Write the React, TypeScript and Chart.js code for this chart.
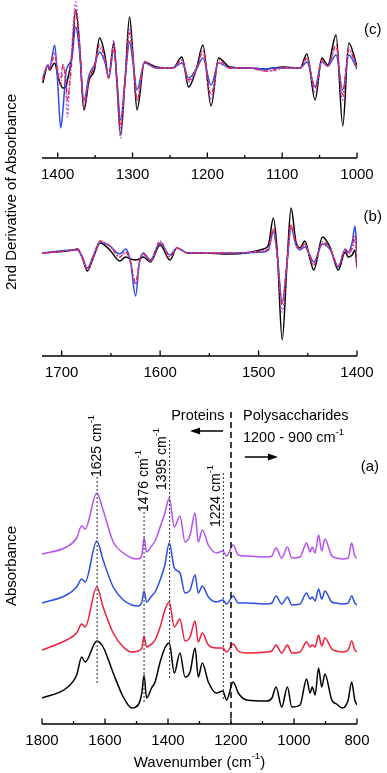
import React, { useEffect, useRef } from 'react';
import { Chart, registerables } from 'chart.js';

Chart.register(...registerables);

const FONT = '"Liberation Sans", Arial, Helvetica, sans-serif';

// ---------- Panel (a): absorbance spectra (offset stack) ----------
const WN_A = [1800, 1722, 1690, 1674, 1663, 1626, 1606, 1574, 1542, 1515, 1495, 1483, 1476, 1468, 1452, 1441, 1425, 1410, 1396, 1380, 1362, 1346, 1330, 1314, 1304, 1291, 1272, 1246, 1226, 1214, 1193, 1177, 1150, 1087, 1070, 1057, 1039, 1021, 1007, 981, 960, 949, 942, 933, 922, 912, 902, 880, 865, 846, 828, 817, 807, 800];
const ABS_BLACK = [0.20, 0.30, 0.43, 0.61, 0.56, 0.77, 0.71, 0.45, 0.21, 0.10, 0.13, 0.25, 0.43, 0.20, 0.30, 0.36, 0.56, 0.70, 0.75, 0.45, 0.65, 0.41, 0.46, 0.70, 0.41, 0.55, 0.36, 0.25, 0.27, 0.18, 0.36, 0.25, 0.18, 0.17, 0.20, 0.31, 0.11, 0.31, 0.11, 0.13, 0.39, 0.25, 0.31, 0.23, 0.50, 0.31, 0.44, 0.18, 0.14, 0.10, 0.18, 0.36, 0.18, 0.13];
const ABS_RED = [0.68, 0.78, 0.85, 0.94, 0.91, 1.31, 1.11, 0.85, 0.71, 0.66, 0.67, 0.70, 0.82, 0.71, 0.74, 0.78, 0.91, 1.08, 1.16, 0.91, 0.99, 0.77, 0.81, 0.97, 0.76, 0.85, 0.73, 0.70, 0.70, 0.66, 0.74, 0.67, 0.65, 0.66, 0.67, 0.73, 0.65, 0.73, 0.65, 0.66, 0.76, 0.71, 0.73, 0.71, 0.83, 0.72, 0.80, 0.69, 0.67, 0.66, 0.68, 0.77, 0.68, 0.66];
const ABS_BLUE = [1.15, 1.23, 1.31, 1.39, 1.36, 1.77, 1.58, 1.31, 1.18, 1.13, 1.12, 1.16, 1.27, 1.16, 1.22, 1.26, 1.38, 1.53, 1.75, 1.50, 1.45, 1.25, 1.28, 1.43, 1.25, 1.32, 1.21, 1.16, 1.18, 1.14, 1.22, 1.15, 1.15, 1.14, 1.15, 1.22, 1.14, 1.21, 1.13, 1.14, 1.25, 1.19, 1.21, 1.17, 1.29, 1.19, 1.27, 1.16, 1.15, 1.14, 1.15, 1.22, 1.15, 1.13];
const ABS_PURPLE = [1.64, 1.71, 1.80, 1.92, 1.89, 2.25, 2.08, 1.76, 1.65, 1.60, 1.59, 1.63, 1.80, 1.66, 1.72, 1.77, 1.91, 2.05, 2.20, 1.91, 2.02, 1.76, 1.83, 2.05, 1.76, 1.88, 1.73, 1.65, 1.67, 1.62, 1.73, 1.63, 1.62, 1.61, 1.62, 1.70, 1.60, 1.71, 1.60, 1.61, 1.75, 1.66, 1.71, 1.65, 1.83, 1.67, 1.79, 1.62, 1.60, 1.59, 1.60, 1.75, 1.62, 1.60];
const TICKS_A = [1800, 1600, 1400, 1200, 1000, 800];
const MINOR_A = [1700, 1500, 1300, 1100, 900];
const BANDS_A = [1625, 1476, 1395, 1224];
const BAND_LABELS_A = ['1625', '1476', '1395', '1224'];
const REGION_SPLIT = 1200;

// ---------- Panel (b): 2nd derivative, 1720-1400 ----------
const WN_B = [1720, 1688, 1684, 1679, 1674, 1668, 1661, 1651, 1641, 1635, 1630, 1625, 1621, 1617, 1610, 1600, 1590, 1583, 1572, 1559, 1529, 1495, 1490, 1485, 1481, 1476, 1471, 1467, 1462, 1458, 1453, 1448, 1444, 1435, 1427, 1419, 1412, 1409, 1405, 1402, 1400];
const D2B_BLACK = [0.0, 0.3, 0.4, -0.5, -1.8, -0.5, 1.0, 0.3, -0.8, -0.4, -0.6, -0.7, -0.6, -0.4, -0.9, 0.8, -0.7, 0.5, 0.0, 0.0, -0.1, 0.4, 0.8, 3.5, 0.1, -8.7, -0.9, 4.5, 1.1, 0.5, 1.2, -0.5, -1.7, 1.6, 0.5, -1.7, 0.1, -0.4, -0.2, 0.3, -1.5];
const D2B_BLUE = [0.0, 0.3, 0.3, -0.4, -1.5, -0.3, 1.1, 0.7, -0.1, 0.4, -0.9, -4.3, -0.9, 0.0, -0.7, 1.0, -0.2, 0.5, 0.0, 0.0, 0.0, 0.1, 0.3, 2.1, -0.2, -4.9, -0.9, 2.5, 0.8, 0.3, 0.6, -0.2, -0.9, 0.9, 0.3, -1.4, 0.4, 0.1, 1.0, 2.7, 0.1];
const D2B_RED = [0.0, 0.3, 0.4, -0.5, -1.7, -0.4, 1.2, 0.7, -0.4, 0.1, -0.9, -3.0, -0.9, -0.1, -0.8, 1.2, -0.4, 0.5, 0.0, 0.0, 0.0, 0.2, 0.4, 2.5, -0.2, -5.2, -0.9, 2.9, 0.9, 0.4, 0.9, -0.3, -1.2, 1.1, 0.4, -1.3, 0.3, -0.1, 0.5, 1.8, -1.4];
const D2B_PURPLE = [0.0, 0.3, 0.4, -0.5, -1.7, -0.4, 1.1, 0.7, -0.4, 0.1, -0.9, -3.2, -0.9, -0.1, -0.8, 1.1, -0.4, 0.5, 0.0, 0.0, 0.0, 0.2, 0.4, 2.3, -0.2, -5.9, -0.9, 2.7, 0.9, 0.4, 0.8, -0.3, -1.2, 1.0, 0.4, -1.3, 0.3, -0.1, 0.4, 1.3, -1.7];
const TICKS_B = [1700, 1600, 1500, 1400];
const MINOR_B = [1650, 1550, 1450];

// ---------- Panel (c): 2nd derivative, 1420-1000 ----------
const WN_C = [1420, 1413, 1411, 1404, 1400, 1396, 1393, 1389, 1387, 1384, 1381, 1376, 1371, 1365, 1358, 1351, 1344, 1337, 1332, 1325, 1321, 1316, 1310, 1304, 1299, 1294, 1284, 1268, 1246, 1234, 1225, 1214, 1206, 1195, 1185, 1170, 1143, 1123, 1112, 1099, 1076, 1067, 1056, 1047, 1039, 1028, 1019, 1011, 1000];
const D2C_BLACK = [-1.5, 0.3, -0.2, 0.5, -0.7, -1.7, -2.0, -1.9, -1.2, -0.2, 1.3, 5.8, 2.5, -4.2, -1.2, -0.2, 3.0, 1.3, -1.0, 2.5, -1.2, -6.7, -1.2, 5.1, 0.8, -4.2, 0.6, 0.1, 0.0, 1.1, -1.9, 0.1, 2.3, -3.8, 1.0, 0.1, 0.0, -0.1, 0.0, 0.1, 0.0, 1.4, -3.2, 1.0, 0.3, 3.3, -5.8, 2.5, 0.2];
const D2C_BLUE = [-1.0, 0.3, 0.0, 2.3, -1.5, -6.0, -4.2, -0.4, 0.1, 0.5, 1.0, 4.1, 1.8, -3.2, -0.7, 0.3, 1.6, 0.6, -0.9, 1.8, -1.0, -5.2, -1.2, 2.6, 0.3, -2.2, 0.5, 0.0, 0.0, 0.5, -1.0, 0.0, 1.0, -1.7, 0.5, 0.0, 0.0, -0.1, 0.0, 0.0, 0.0, 0.6, -1.9, 0.6, 0.2, 1.3, -2.2, 1.3, -0.1];
const D2C_RED = [-1.2, 0.2, -0.1, 1.3, -0.4, -1.7, 0.3, -1.2, -3.2, -1.7, 0.8, 5.8, 2.3, -3.9, -1.0, 0.1, 2.3, 1.0, -1.0, 2.1, -1.2, -5.9, -1.2, 3.5, 0.6, -3.2, 0.6, 0.0, 0.0, 0.8, -1.2, 0.0, 1.6, -2.7, 0.8, 0.0, 0.0, -0.3, -0.2, 0.0, 0.0, 1.0, -2.0, 0.8, 0.2, 2.3, -2.7, 1.8, 0.0];
const D2C_PURPLE = [-1.0, 0.3, 0.0, 1.6, -0.2, -0.9, 0.3, -2.2, -4.9, -1.2, 2.3, 6.6, 2.8, -3.5, -0.9, 0.2, 2.0, 0.8, -1.0, 2.8, -1.7, -7.0, -1.4, 4.0, 0.6, -3.2, 0.6, 0.0, 0.0, 0.8, -1.4, 0.0, 1.8, -3.2, 0.6, 0.0, 0.0, -0.3, -0.3, 0.0, 0.0, 1.0, -2.4, 0.6, 0.2, 2.0, -3.2, 2.0, 0.0];
const TICKS_C = [1400, 1300, 1200, 1100, 1000];
const MINOR_C = [1350, 1250, 1150, 1050];

// ---------- styling ----------
const C_BLACK = '#000000';
const C_RED = '#f21d3a';
const C_BLUE = '#2b4ce8';
const C_PURPLE = '#b64ff2';

type Part = { t: string; sup?: boolean };

function drawRich(ctx: CanvasRenderingContext2D, parts: Part[], x: number, y: number, size: number, align: 'left' | 'center' | 'right') {
  let w = 0;
  for (const p of parts) {
    ctx.font = `${p.sup ? size * 0.66 : size}px ${FONT}`;
    w += ctx.measureText(p.t).width;
  }
  let cx = align === 'left' ? x : align === 'center' ? x - w / 2 : x - w;
  ctx.textAlign = 'left';
  ctx.textBaseline = 'middle';
  for (const p of parts) {
    const fs = p.sup ? size * 0.66 : size;
    ctx.font = `${fs}px ${FONT}`;
    ctx.fillText(p.t, cx, p.sup ? y - size * 0.42 : y);
    cx += ctx.measureText(p.t).width;
  }
}

function axisPlugin(major: number[], minor: number[], title: boolean, tag?: { text: string; wn: number; v: number }) {
  return {
    id: 'customAxis',
    afterDraw(chart: any) {
      const { ctx, chartArea, scales } = chart;
      const xs = scales.x;
      const ys = scales.y;
      const yB = chartArea.bottom;
      ctx.save();
      ctx.strokeStyle = '#000';
      ctx.fillStyle = '#000';
      ctx.lineWidth = 1.6;
      ctx.beginPath();
      ctx.moveTo(chartArea.left, yB);
      ctx.lineTo(chartArea.right, yB);
      ctx.stroke();
      ctx.lineWidth = 1.3;
      for (const t of major) {
        const x = xs.getPixelForValue(t);
        ctx.beginPath();
        ctx.moveTo(x, yB);
        ctx.lineTo(x, yB - 5.5);
        ctx.stroke();
      }
      for (const t of minor) {
        const x = xs.getPixelForValue(t);
        ctx.beginPath();
        ctx.moveTo(x, yB);
        ctx.lineTo(x, yB - 3);
        ctx.stroke();
      }
      ctx.font = `15px ${FONT}`;
      ctx.textAlign = 'center';
      ctx.textBaseline = 'middle';
      for (const t of major) {
        ctx.fillText(String(t), xs.getPixelForValue(t), yB + 16.5);
      }
      if (title) {
        drawRich(ctx, [{ t: 'Wavenumber (cm' }, { t: '-1', sup: true }, { t: ')' }], (chartArea.left + chartArea.right) / 2, yB + 38.5, 15, 'center');
      }
      if (tag) {
        ctx.font = `15px ${FONT}`;
        ctx.textAlign = 'center';
        ctx.textBaseline = 'middle';
        ctx.fillText(tag.text, xs.getPixelForValue(tag.wn), ys.getPixelForValue(tag.v));
      }
      ctx.restore();
    },
  };
}

const annotationPluginA = {
  id: 'annotA',
  afterDatasetsDraw(chart: any) {
    const { ctx, scales, chartArea } = chart;
    const xs = scales.x;
    const ys = scales.y;
    const X = (v: number) => xs.getPixelForValue(v);
    const Y = (v: number) => ys.getPixelForValue(v);
    ctx.save();
    // band marker layout: line extent and label placement (in data units)
    const layout = [
      { top: 2.41, bottom: 0.35, textWn: BANDS_A[0], textBottom: 2.41 },
      { top: 2.06, bottom: 0.15, textWn: BANDS_A[1], textBottom: 2.06 },
      { top: 2.78, bottom: 0.38, textWn: 1418, textBottom: 2.28 },
      { top: 2.45, bottom: 0.18, textWn: 1248, textBottom: 1.91 },
    ];
    ctx.strokeStyle = '#4a4a5a';
    ctx.lineWidth = 1.2;
    ctx.setLineDash([2, 2]);
    BANDS_A.forEach((wn, i) => {
      const L = layout[i];
      ctx.beginPath();
      ctx.moveTo(X(wn), Y(L.top));
      ctx.lineTo(X(wn), Y(L.bottom));
      ctx.stroke();
    });
    // region split line
    ctx.strokeStyle = '#111';
    ctx.lineWidth = 1.6;
    ctx.setLineDash([6, 4]);
    ctx.beginPath();
    ctx.moveTo(X(REGION_SPLIT), Y(3.06));
    ctx.lineTo(X(REGION_SPLIT), chartArea.bottom);
    ctx.stroke();
    ctx.setLineDash([]);
    // rotated band labels
    ctx.fillStyle = '#000';
    BANDS_A.forEach((wn, i) => {
      const L = layout[i];
      ctx.save();
      ctx.translate(X(L.textWn), Y(L.textBottom));
      ctx.rotate(-Math.PI / 2);
      drawRich(ctx, [{ t: BAND_LABELS_A[i] + ' cm' }, { t: '-1', sup: true }], 0, 0, 14, 'left');
      ctx.restore();
    });
    // region texts
    drawRich(ctx, [{ t: 'Proteins' }], X(1221), Y(3.02), 14.5, 'right');
    drawRich(ctx, [{ t: 'Polysaccharides' }], X(1162), Y(3.02), 14.5, 'left');
    drawRich(ctx, [{ t: '1200 - 900 cm' }, { t: '-1', sup: true }], X(1162), Y(2.8), 14.5, 'left');
    // arrows
    ctx.strokeStyle = '#000';
    ctx.fillStyle = '#000';
    ctx.lineWidth = 1.5;
    const arrow = (from: number, to: number, v: number) => {
      const x1 = X(from);
      const x2 = X(to);
      const y = Y(v);
      const dir = Math.sign(x2 - x1);
      ctx.beginPath();
      ctx.moveTo(x1, y);
      ctx.lineTo(x2 - dir * 6, y);
      ctx.stroke();
      ctx.beginPath();
      ctx.moveTo(x2, y);
      ctx.lineTo(x2 - dir * 10, y - 3.5);
      ctx.lineTo(x2 - dir * 10, y + 3.5);
      ctx.closePath();
      ctx.fill();
    };
    arrow(1225, 1330, 2.87);
    arrow(1156, 1051, 2.61);
    // panel tag
    ctx.font = `15px ${FONT}`;
    ctx.textAlign = 'center';
    ctx.textBaseline = 'middle';
    ctx.fillText('(a)', X(759), Y(2.51));
    ctx.restore();
  },
};

function pts(xs: number[], ys: number[]) {
  return xs.map((x, i) => ({ x, y: ys[i] }));
}

function derivDatasets(wn: number[], black: number[], blue: number[], red: number[], purple: number[]) {
  return [
    { data: pts(wn, red), borderColor: C_RED, borderWidth: 1.4, borderDash: [4, 2, 1, 2] },
    { data: pts(wn, purple), borderColor: C_PURPLE, borderWidth: 1.4, borderDash: [2, 2] },
    { data: pts(wn, blue), borderColor: C_BLUE, borderWidth: 1.5 },
    { data: pts(wn, black), borderColor: C_BLACK, borderWidth: 1.5 },
  ];
}

function makeChart(canvas: HTMLCanvasElement, datasets: any[], xr: [number, number], yr: [number, number], padding: any, plugins: any[]) {
  return new Chart(canvas, {
    type: 'line',
    data: { datasets: datasets.map((d) => ({ ...d, pointRadius: 0, fill: false, cubicInterpolationMode: 'monotone' })) },
    options: {
      responsive: false,
      maintainAspectRatio: false,
      animation: false,
      events: [],
      layout: { padding },
      plugins: { legend: { display: false }, tooltip: { enabled: false } },
      scales: {
        x: { type: 'linear', reverse: true, min: xr[0], max: xr[1], display: false },
        y: { type: 'linear', min: yr[0], max: yr[1], display: false },
      },
    } as any,
    plugins,
  });
}

export default function App() {
  const refC = useRef<HTMLCanvasElement>(null);
  const refB = useRef<HTMLCanvasElement>(null);
  const refA = useRef<HTMLCanvasElement>(null);

  useEffect(() => {
    const charts: Chart[] = [];
    if (refC.current) {
      charts.push(
        makeChart(refC.current, derivDatasets(WN_C, D2C_BLACK, D2C_BLUE, D2C_RED, D2C_PURPLE), [1000, 1421], [-9.0, 6.8],
          { left: 42, right: 30, top: 0, bottom: 30 },
          [axisPlugin(TICKS_C, MINOR_C, false, { text: '(c)', wn: 979, v: 3.8 })])
      );
    }
    if (refB.current) {
      charts.push(
        makeChart(refB.current, derivDatasets(WN_B, D2B_BLACK, D2B_BLUE, D2B_RED, D2B_PURPLE), [1400, 1720], [-10.3, 6.0],
          { left: 42, right: 30, top: 5, bottom: 32 },
          [axisPlugin(TICKS_B, MINOR_B, false, { text: '(b)', wn: 1384, v: 3.6 })])
      );
    }
    if (refA.current) {
      const ds = [
        { data: pts(WN_A, ABS_PURPLE), borderColor: C_PURPLE, borderWidth: 1.5 },
        { data: pts(WN_A, ABS_BLUE), borderColor: C_BLUE, borderWidth: 1.5 },
        { data: pts(WN_A, ABS_RED), borderColor: C_RED, borderWidth: 1.5 },
        { data: pts(WN_A, ABS_BLACK), borderColor: C_BLACK, borderWidth: 1.5 },
      ];
      charts.push(
        makeChart(refA.current, ds, [800, 1800], [-0.06, 3.2],
          { left: 42, right: 30, top: 10, bottom: 49 },
          [annotationPluginA, axisPlugin(TICKS_A, MINOR_A, true)])
      );
    }
    return () => charts.forEach((c) => c.destroy());
  }, []);

  const canvasStyle = (top: number, h: number): React.CSSProperties => ({
    position: 'absolute', left: 0, top, width: 387, height: h, display: 'block',
  });
  const vlabel = (cx: number, cy: number): React.CSSProperties => ({
    position: 'absolute', left: cx, top: cy, transform: 'translate(-50%, -50%) rotate(-90deg)',
    whiteSpace: 'nowrap', font: `15px ${FONT}`, color: '#000', lineHeight: '17px',
  });

  return (
    <div style={{ position: 'absolute', left: 0, top: 0, width: 387, height: 773, background: '#fff', overflow: 'hidden' }}>
      <canvas ref={refC} width={387} height={188} style={canvasStyle(0, 188)} />
      <canvas ref={refB} width={387} height={200} style={canvasStyle(188, 200)} />
      <canvas ref={refA} width={387} height={385} style={canvasStyle(388, 385)} />
      <div style={vlabel(10, 192)}>2nd Derivative of Absorbance</div>
      <div style={vlabel(10, 566)}>Absorbance</div>
    </div>
  );
}
